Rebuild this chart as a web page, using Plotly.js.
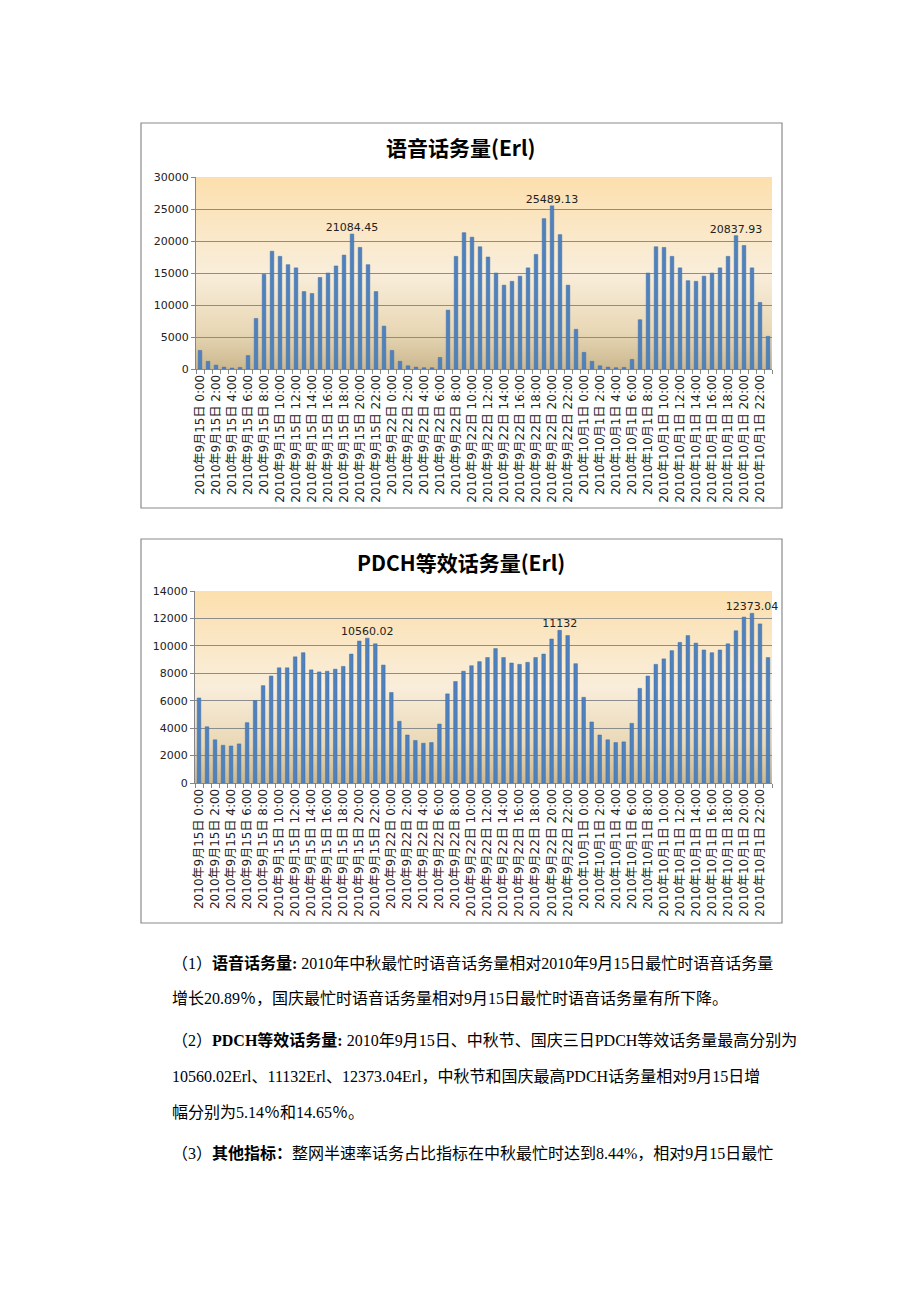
<!DOCTYPE html>
<html>
<head>
<meta charset="utf-8">
<script src="https://cdn.plot.ly/plotly-3.0.1.min.js"></script>
<style>
html,body{margin:0;padding:0;background:#fff;}
#chart{width:920px;height:1302px;}
</style>
</head>
<body>
<div id="chart"></div>
<script>
// ---- data ----
const dayLabels = ['2010年9月15日', '2010年9月22日', '2010年10月1日'];
const hourLabels = ['0:00','1:00','2:00','3:00','4:00','5:00','6:00','7:00','8:00','9:00','10:00','11:00',
  '12:00','13:00','14:00','15:00','16:00','17:00','18:00','19:00','20:00','21:00','22:00','23:00'];

const voiceTraffic = [
  2900, 1200, 600, 300, 150, 250, 2100, 7900, 14800, 18400, 17600, 16300,
  15800, 12100, 11800, 14300, 15000, 16100, 17800, 21084.45, 19000, 16300, 12100, 6700,
  2900, 1200, 500, 300, 200, 200, 1800, 9200, 17600, 21300, 20600, 19100,
  17500, 15000, 13100, 13700, 14500, 15800, 17900, 23500, 25489.13, 21000, 13100, 6200,
  2600, 1200, 500, 300, 200, 250, 1500, 7700, 15000, 19100, 19000, 17600,
  15800, 13800, 13700, 14500, 15000, 15800, 17600, 20837.93, 19300, 15800, 10400, 5100
];

const pdchTraffic = [
  6200, 4100, 3150, 2750, 2700, 2850, 4400, 6000, 7100, 7800, 8400, 8400,
  9200, 9500, 8250, 8100, 8150, 8300, 8500, 9400, 10350, 10560.02, 10150, 8600,
  6600, 4500, 3500, 3100, 2900, 2950, 4300, 6500, 7400, 8150, 8550, 8850,
  9150, 9800, 9150, 8750, 8650, 8800, 9150, 9400, 10500, 11132, 10750, 8700,
  6250, 4450, 3500, 3150, 2950, 3000, 4350, 6900, 7800, 8650, 9050, 9650,
  10250, 10750, 10200, 9700, 9500, 9700, 10150, 11100, 12100, 12373.04, 11600, 9150
];

const title1 = '语音话务量(Erl)';
const title2 = 'PDCH等效话务量(Erl)';

const paragraphLines = [
  '（1）<b>语音话务量:</b> 2010年中秋最忙时语音话务量相对2010年9月15日最忙时语音话务量',
  '增长20.89％，国庆最忙时语音话务量相对9月15日最忙时语音话务量有所下降。',
  '（2）<b>PDCH等效话务量:</b> 2010年9月15日、中秋节、国庆三日PDCH等效话务量最高分别为',
  '10560.02Erl、11132Erl、12373.04Erl，中秋节和国庆最高PDCH话务量相对9月15日增',
  '幅分别为5.14％和14.65％。',
  '（3）<b>其他指标：</b>整网半速率话务占比指标在中秋最忙时达到8.44%，相对9月15日最忙'
];

// ---- derived ----
const categories = [];
dayLabels.forEach(d => hourLabels.forEach(h => categories.push(d + ' ' + h)));
const tickText = categories.map((c, i) => (i % 2 === 0 ? c : ''));

function peakLabels(vals) {
  const out = vals.map(() => '');
  for (let d = 0; d < dayLabels.length; d++) {
    let best = d * 24;
    for (let i = d * 24; i < d * 24 + 24; i++) if (vals[i] > vals[best]) best = i;
    out[best] = String(vals[best]);
  }
  return out;
}

// ---- layout helpers ----
const W = 920, H = 1302;
const px = x => x / W;
const py = y => 1 - y / H;

const gradSvg = "<svg xmlns='http://www.w3.org/2000/svg' width='100' height='100' preserveAspectRatio='none'>" +
  "<defs><linearGradient id='g' x1='0' y1='0' x2='0' y2='1'>" +
  "<stop offset='0' stop-color='#fcdfad'/>" +
  "<stop offset='0.5' stop-color='#f9eedb'/>" +
  "<stop offset='0.8' stop-color='#e9d8b6'/>" +
  "<stop offset='1' stop-color='#cbb890'/>" +
  "</linearGradient></defs><rect width='100' height='100' fill='url(#g)'/></svg>";
const gradUri = 'data:image/svg+xml;base64,' + btoa(gradSvg);

const barColor = '#4f81bd';
const xTickFont = {family: 'DejaVu Sans, Noto Sans CJK SC, sans-serif', size: 12, color: '#222'};
const yTickFont = {family: 'DejaVu Sans, sans-serif', size: 11, color: '#222'};

function barTrace(vals, xa, ya) {
  return {
    type: 'bar', x: categories, y: vals, xaxis: xa, yaxis: ya,
    marker: {color: barColor, line: {color: '#3f6fa8', width: 0.5}},
    text: peakLabels(vals), textposition: 'outside', constraintext: 'none', cliponaxis: false,
    textfont: {family: 'DejaVu Sans, sans-serif', size: 11, color: '#222'},
    hoverinfo: 'x+y', showlegend: false
  };
}

function xAxis(domain, anchor) {
  return {
    domain: domain, anchor: anchor, type: 'category',
    tickmode: 'array', tickvals: categories, ticktext: tickText,
    tickangle: -90, tickfont: xTickFont, tickson: 'boundaries',
    ticks: 'outside', ticklen: 4, tickcolor: '#868686',
    showline: true, linecolor: '#868686', linewidth: 1,
    showgrid: false, zeroline: false, fixedrange: true
  };
}
function yAxis(domain, anchor, max, step) {
  return {
    domain: domain, anchor: anchor, range: [0, max], dtick: step, tick0: 0, tickformat: 'd',
    tickfont: yTickFont, ticks: 'outside', ticklen: 4, tickcolor: '#868686',
    showline: true, linecolor: '#868686', linewidth: 1,
    showgrid: true, gridcolor: '#8c8c8c', gridwidth: 1,
    zeroline: false, fixedrange: true
  };
}

const data = [barTrace(voiceTraffic, 'x', 'y'), barTrace(pdchTraffic, 'x2', 'y2')];

const annotations = [
  {text: '<b>' + title1 + '</b>', x: px(461), y: py(147), xref: 'paper', yref: 'paper',
   xanchor: 'center', yanchor: 'middle', showarrow: false,
   font: {family: 'Noto Sans CJK SC, sans-serif', size: 21, color: '#000'}},
  {text: '<b>' + title2 + '</b>', x: px(461), y: py(562), xref: 'paper', yref: 'paper',
   xanchor: 'center', yanchor: 'middle', showarrow: false,
   font: {family: 'Noto Sans CJK SC, sans-serif', size: 21, color: '#000'}}
];
const lineY = [963, 999, 1040, 1076, 1112, 1153];
paragraphLines.forEach((t, i) => {
  annotations.push({
    text: t, x: px(170), y: py(lineY[i]), xref: 'paper', yref: 'paper',
    xanchor: 'left', yanchor: 'middle', showarrow: false, align: 'left',
    font: {family: 'Liberation Serif, Noto Sans CJK SC, serif', size: 16, color: '#000'}
  });
});

const layout = {
  width: W, height: H, margin: {l: 0, r: 0, t: 0, b: 0},
  paper_bgcolor: '#ffffff', plot_bgcolor: 'rgba(0,0,0,0)',
  bargap: 0.55, showlegend: false,
  xaxis: xAxis([px(196), px(772)], 'y'),
  yaxis: yAxis([py(369), py(177)], 'x', 30000, 5000),
  xaxis2: xAxis([px(195), px(772)], 'y2'),
  yaxis2: yAxis([py(783), py(591)], 'x2', 14000, 2000),
  images: [
    {source: gradUri, xref: 'x domain', yref: 'y domain', x: 0, y: 1, sizex: 1, sizey: 1,
     xanchor: 'left', yanchor: 'top', sizing: 'stretch', layer: 'below'},
    {source: gradUri, xref: 'x2 domain', yref: 'y2 domain', x: 0, y: 1, sizex: 1, sizey: 1,
     xanchor: 'left', yanchor: 'top', sizing: 'stretch', layer: 'below'}
  ],
  shapes: [
    {type: 'rect', xref: 'paper', yref: 'paper', x0: px(141), x1: px(782), y0: py(508), y1: py(123),
     line: {color: '#8a8a8a', width: 1.2}, fillcolor: 'rgba(0,0,0,0)'},
    {type: 'rect', xref: 'paper', yref: 'paper', x0: px(141), x1: px(782), y0: py(923), y1: py(539),
     line: {color: '#8a8a8a', width: 1.2}, fillcolor: 'rgba(0,0,0,0)'}
  ],
  annotations: annotations
};

Plotly.newPlot('chart', data, layout, {displayModeBar: false, staticPlot: true});
</script>
</body>
</html>
